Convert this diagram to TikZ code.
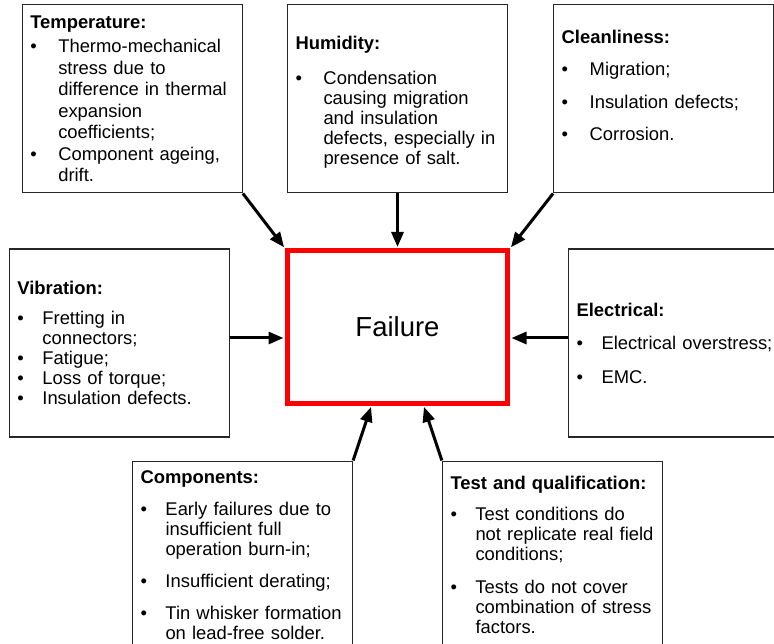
\documentclass[tikz,border=0pt]{standalone}
\usepackage{fontspec}
\setmainfont{Liberation Sans}
\usetikzlibrary{arrows.meta}
\usetikzlibrary{positioning}

\newlength{\bulw}
\setlength{\bulw}{28pt}
\newcommand{\ttl}[1]{\noindent\textbf{#1}\par}
\newcommand{\itm}[2][0pt]{\par\vspace{#1}\hangindent=\bulw\hangafter=1%
	\noindent\makebox[\bulw][l]{\textbullet}{\let\\\newline#2}\par}

\begin{document}
\begin{tikzpicture}[>={Triangle[length=15pt,width=12pt]},x=1pt,y=-1pt]
		\tikzstyle{cause}=[rectangle,draw=black!85,line width=1.2pt,
			minimum width=220pt,minimum height=188pt,inner xsep=8pt,inner ysep=2pt,
			text width=204pt,align=left,font=\fontsize{18.4}{21.5}\selectfont];
		\tikzstyle{tight}=[execute at begin node={\setlength{\bulw}{25pt}}];
		\tikzstyle{close}=[font=\fontsize{18.4}{20}\selectfont];
		\tikzstyle{failbox}=[rectangle,draw=red,line width=5pt,
			minimum width=220pt,minimum height=152pt,font=\fontsize{27.5}{32}\selectfont];
		\tikzstyle{push}=[->,line width=3pt,shorten >=1.5pt];
		\useasboundingbox(0,0)rectangle(774,644);

		\node[failbox](fail)at(397.5,327){Failure};

		\node[cause,close,above=55pt of fail](hum){\ttl{\rule{0pt}{19.5pt}Humidity:}%
			\itm[15pt]{Condensation\\causing migration\\and insulation\\defects, especially in\\presence of salt.}};
		\node[cause,left=44pt of hum](temp){\ttl{Temperature:}%
			\itm[3pt]{Thermo-mechanical\\stress due to\\difference in thermal\\expansion\\coefficients;}%
			\itm{Component ageing,\\drift.}};
		\node[cause,right=45pt of hum](clean){\ttl{Cleanliness:}%
			\itm[11pt]{Migration;}\itm[11pt]{Insulation defects;}\itm[11pt]{Corrosion.}%
			\par\vspace{6pt}\null};

		\node[cause,close,tight,left=55pt of fail,yshift=-16pt](vib){\ttl{Vibration:}%
			\itm[10pt]{Fretting in\\connectors;}\itm{Fatigue;}\itm{Loss of torque;}\itm{Insulation defects.}};
		\node[cause,tight,right=58pt of fail,yshift=-16pt](elec){\ttl{Electrical:}%
			\itm[12pt]{Electrical overstress;}\itm[12pt]{EMC.}};

		\node[cause,close,tight,below=55pt of fail,xshift=-155pt](comp){\ttl{Components:}%
			\itm[12pt]{Early failures due to\\insufficient full\\operation burn-in;}%
			\itm[12pt]{Insufficient derating;}%
			\itm[12pt]{Tin whisker formation\\on lead-free solder.}};
		\node[cause,close,tight,below=55pt of fail,xshift=155pt](test){\ttl{Test and qualification:}%
			\itm[11pt]{Test conditions do\\not replicate real field\\conditions;}%
			\itm[13pt]{Tests do not cover\\combination of stress\\factors.}};

		% causes pointing at the failure box
		\draw[push](temp.south east)--(fail.north west);
		\draw[push](hum.south)--(fail.north);
		\draw[push](clean.south west)--(fail.north east);
		\draw[push]([yshift=5pt]vib.east)--([yshift=5pt]vib.east-|fail.west);
		\draw[push]([yshift=5pt]elec.west)--([yshift=5pt]elec.west-|fail.east);
		\draw[push](comp.north east)--([xshift=-26pt]fail.south);
		\draw[push](test.north west)--([xshift=26pt]fail.south);
	\end{tikzpicture}
\end{document}
